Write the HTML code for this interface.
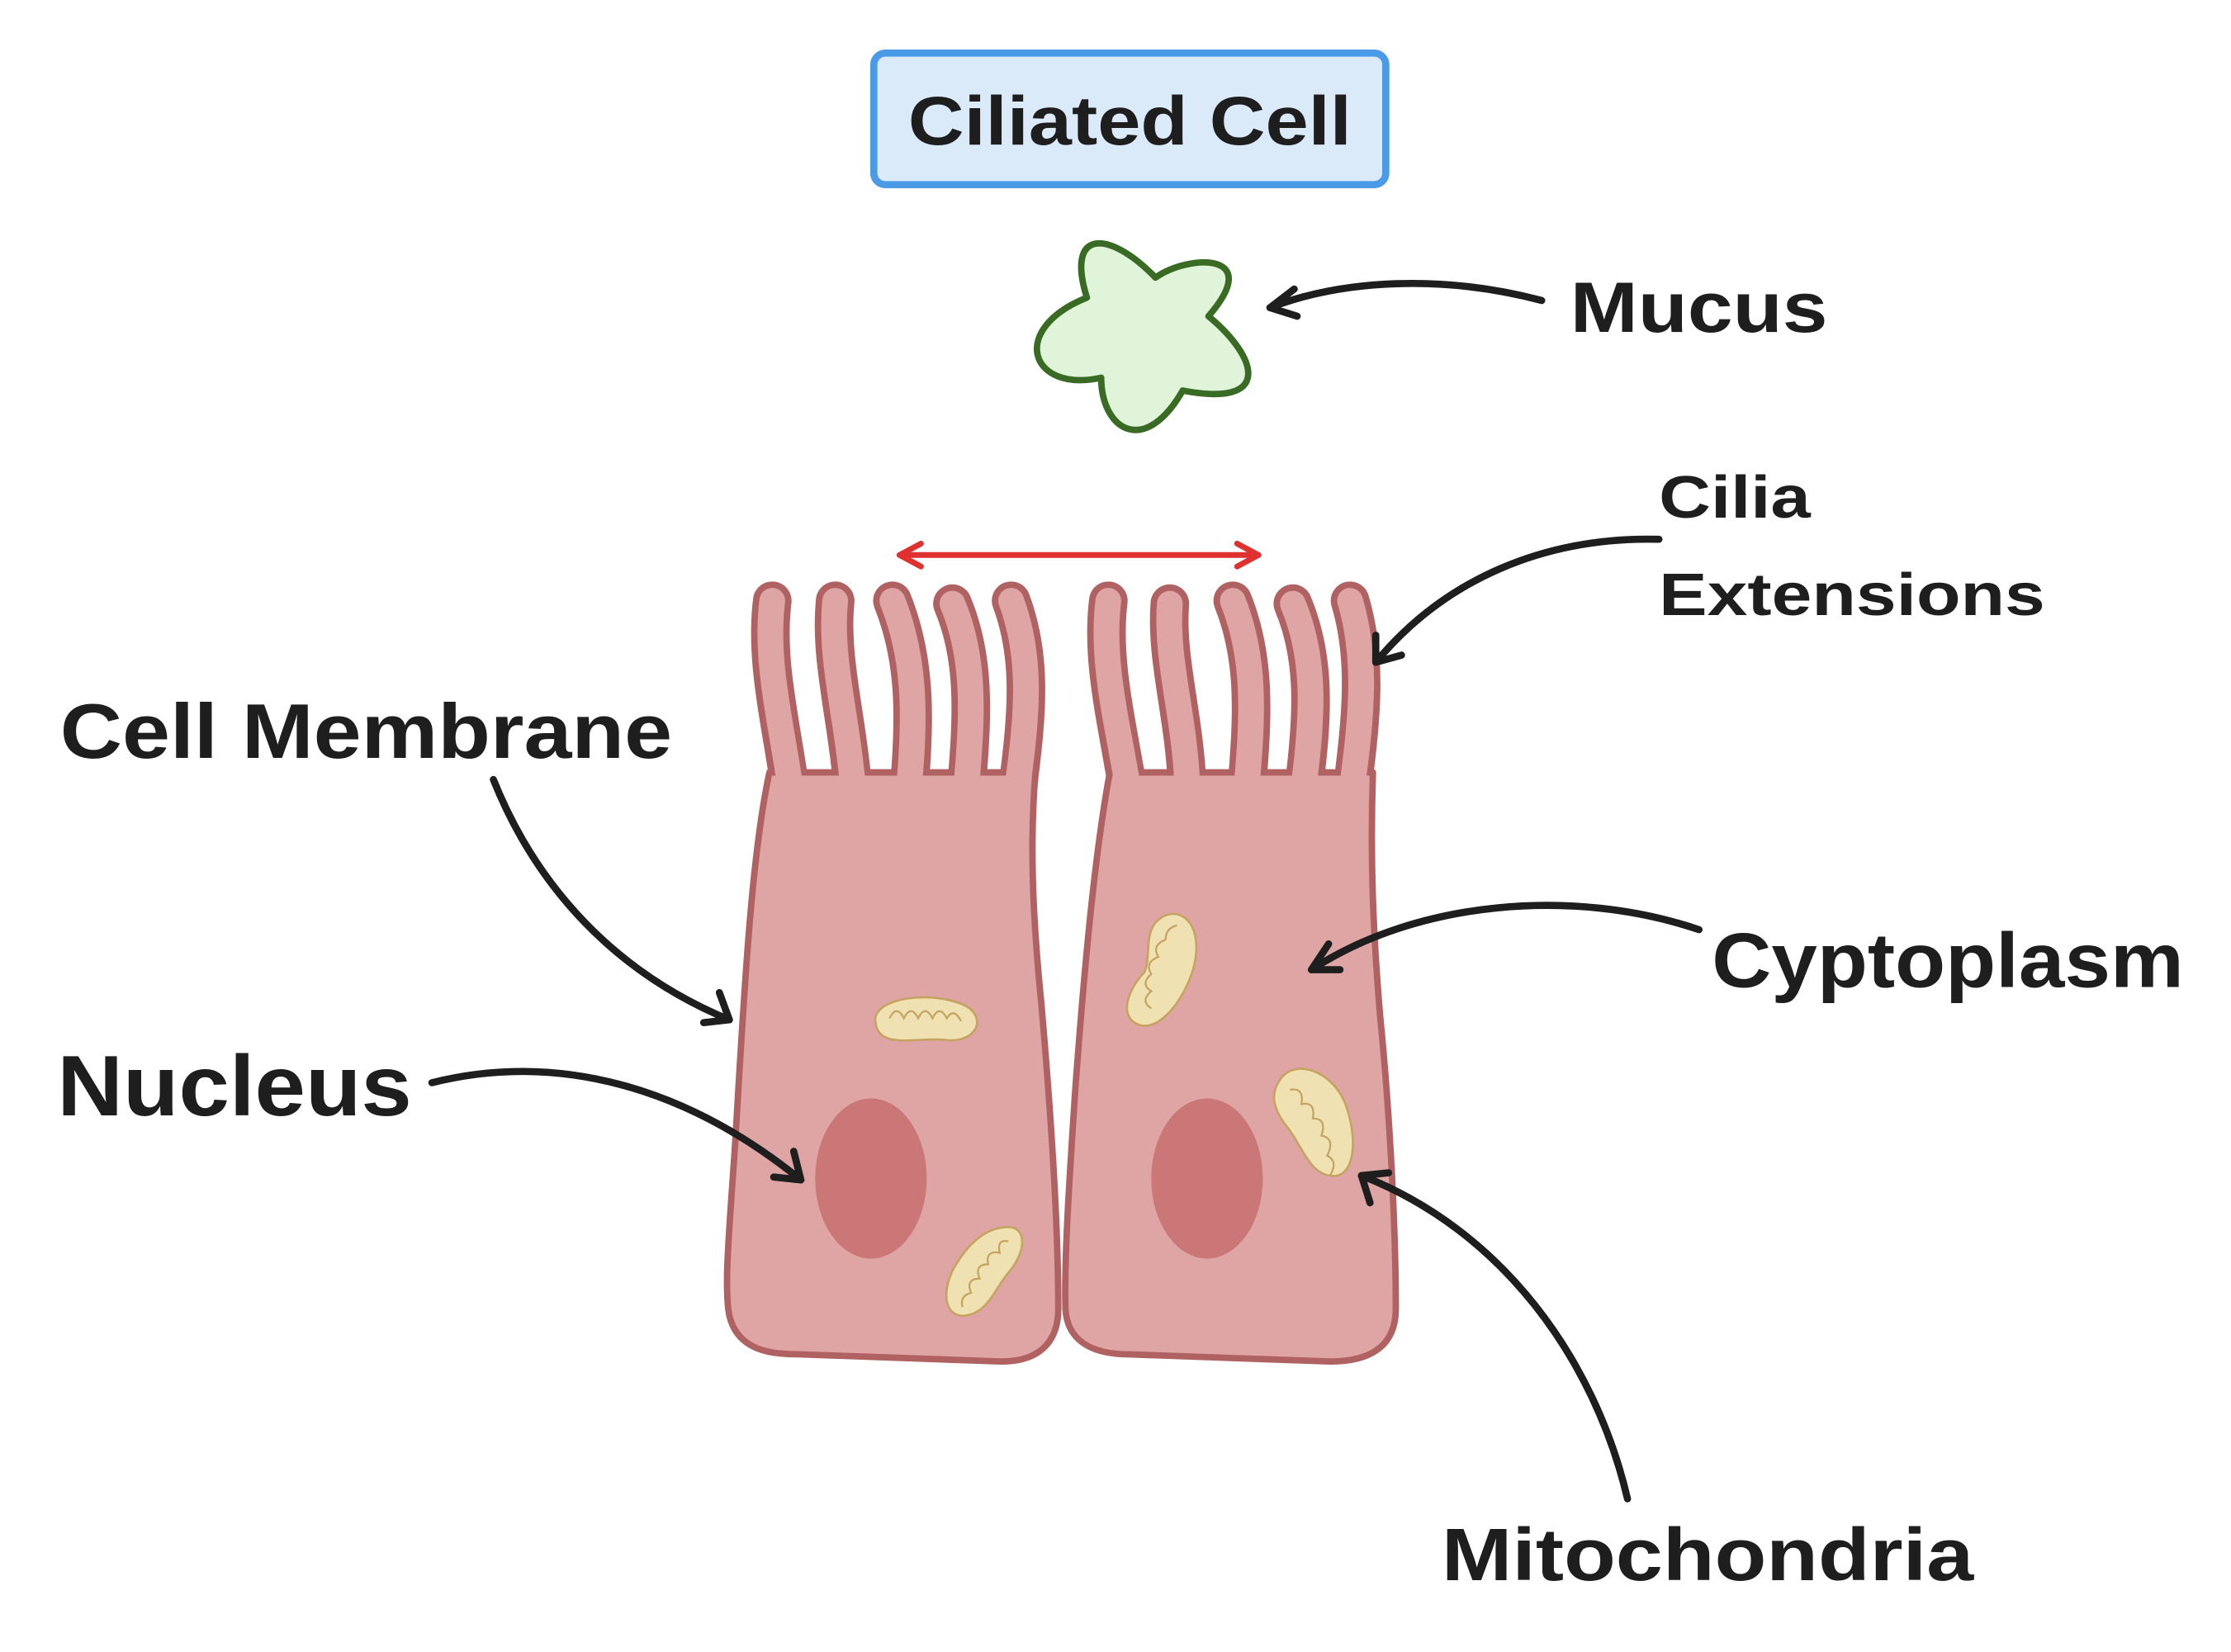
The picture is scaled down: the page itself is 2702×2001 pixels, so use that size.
<!DOCTYPE html>
<html><head><meta charset="utf-8"><style>
html,body{margin:0;padding:0;background:#fff;}
svg{display:block;}
text{font-family:"Liberation Sans",sans-serif;font-weight:bold;fill:#1e1e1e;}
</style></head><body>
<svg width="2702" height="2001" viewBox="0 0 1560 1155" xmlns="http://www.w3.org/2000/svg">
<!-- title -->
<rect x="611" y="37" width="358" height="92" rx="8" fill="#dbeaf9" stroke="#4a9ae8" stroke-width="5"/>
<text x="635" y="101" font-size="48" textLength="310" lengthAdjust="spacingAndGlyphs">Ciliated Cell</text>

<!-- mucus star -->
<path d="M760,208 C745,160 775,160 808,194 C830,178 885,175 845,221 C880,250 890,285 827,273 C800,320 770,300 770,264 C720,275 705,230 760,208 Z" fill="#e0f4da" stroke="#3a6b25" stroke-width="4.5" stroke-linejoin="round"/>

<!-- red arrow -->
<g fill="none" stroke="#e03131" stroke-width="4" stroke-linecap="round" stroke-linejoin="round">
<path d="M629,388 L880,388"/>
<path d="M644,380 L629,388 L644,396"/>
<path d="M865,380 L880,388 L865,396"/>
</g>

<!-- cells -->
<g fill="none" stroke="#b06262" stroke-width="27" stroke-linecap="round">
<path d="M540,420 C535,460 545,500 552,548"/>
<path d="M584,420 C580,460 592,500 596,548"/>
<path d="M624,420 C640,460 640,500 636,548"/>
<path d="M666,422 C682,460 680,500 676,548"/>
<path d="M707,420 C722,460 718,500 712,548"/>
<path d="M775,420 C770,460 780,500 788,548"/>
<path d="M818,422 C815,460 828,500 830,548"/>
<path d="M862,420 C878,460 876,500 872,548"/>
<path d="M904,422 C920,460 918,500 912,548"/>
<path d="M944,420 C956,460 952,500 946,548"/>
</g>
<path d="M538,540 C525,600 520,700 514,800 C510,860 506,900 510,920 C516,945 540,947 560,947 L700,952 C730,952 740,935 740,915 C740,860 735,780 728,700 C722,640 720,590 724,540 Z" fill="#dfa4a4" stroke="#b06262" stroke-width="4.5" stroke-linejoin="round"/>
<path d="M776,540 C765,600 758,680 752,760 C748,820 744,880 745,915 C746,935 760,947 790,947 L930,952 C960,952 976,940 976,915 C976,860 972,780 965,710 C960,650 958,600 960,540 Z" fill="#dfa4a4" stroke="#b06262" stroke-width="4.5" stroke-linejoin="round"/>
<g fill="none" stroke="#dfa4a4" stroke-width="18" stroke-linecap="round">
<path d="M540,420 C535,460 545,500 552,546"/>
<path d="M584,420 C580,460 592,500 596,546"/>
<path d="M624,420 C640,460 640,500 636,546"/>
<path d="M666,422 C682,460 680,500 676,546"/>
<path d="M707,420 C722,460 718,500 712,546"/>
<path d="M775,420 C770,460 780,500 788,546"/>
<path d="M818,422 C815,460 828,500 830,546"/>
<path d="M862,420 C878,460 876,500 872,546"/>
<path d="M904,422 C920,460 918,500 912,546"/>
<path d="M944,420 C956,460 952,500 946,546"/>
</g>
<!-- nuclei -->
<ellipse cx="609" cy="824" rx="39" ry="56" fill="#cb7777"/>
<ellipse cx="844" cy="824" rx="39" ry="56" fill="#cb7777"/>
<!-- mitochondria -->
<g fill="#f0e1b2" stroke="#c4a45e" stroke-width="1.5">
<path d="M612,712 C615,695 660,693 678,705 C690,715 680,730 660,727 C640,725 612,735 612,712 Z"/>
<path d="M808,645 C820,632 840,640 836,670 C833,690 815,720 798,717 C780,712 790,690 800,680 C805,670 800,655 808,645 Z"/>
<path d="M895,755 C905,740 930,748 940,770 C950,795 948,825 930,822 C915,820 910,800 900,788 C890,775 888,765 895,755 Z"/>
<path d="M705,858 C718,858 718,875 705,890 C695,902 690,920 672,920 C658,918 660,898 668,885 C680,865 693,858 705,858 Z"/>
</g>
<g fill="none" stroke="#c4a45e" stroke-width="1.3">
<path d="M622,712 q5,-10 10,0 q5,-10 10,0 q5,-10 10,0 q5,-10 10,0 q5,-8 10,2"/>
<path d="M805,705 q-8,-5 0,-12 q-8,-5 0,-12 q-5,-8 5,-12 q-5,-8 5,-12 q0,-8 8,-10"/>
<path d="M902,762 q10,-2 8,10 q10,-2 8,10 q10,0 6,12 q10,2 4,14 q8,4 2,14"/>
<path d="M705,868 q-8,-2 -6,8 q-10,-2 -8,8 q-10,0 -6,10 q-10,0 -6,10 q-8,2 -6,10"/>
</g>

<!-- arrows -->
<g fill="none" stroke="#1e1e1e" stroke-width="5" stroke-linecap="round" stroke-linejoin="round">
<path d="M1078,210 C1010,192 940,195 888,215"/>
<path d="M905,202 L888,215 L907,221"/>
<path d="M1160,377 C1080,375 1010,405 962,463"/>
<path d="M962,444 L962,463 L980,458"/>
<path d="M345,545 C375,620 430,680 510,713"/>
<path d="M503,694 L510,713 L492,715"/>
<path d="M302,757 C390,735 480,760 560,825"/>
<path d="M555,805 L560,825 L541,823"/>
<path d="M1188,650 C1100,620 990,630 917,678"/>
<path d="M929,660 L917,678 L937,678"/>
<path d="M1138,1048 C1115,950 1050,860 952,822"/>
<path d="M958,841 L952,822 L971,820"/>
</g>

<!-- labels -->
<text x="1098" y="232" font-size="50" textLength="180" lengthAdjust="spacingAndGlyphs">Mucus</text>
<text x="1160" y="362" font-size="42" textLength="106" lengthAdjust="spacingAndGlyphs">Cilia</text>
<text x="1160" y="430" font-size="42" textLength="270" lengthAdjust="spacingAndGlyphs">Extensions</text>
<text x="42" y="530" font-size="54" textLength="428" lengthAdjust="spacingAndGlyphs">Cell Membrane</text>
<text x="40" y="780" font-size="60" textLength="248" lengthAdjust="spacingAndGlyphs">Nucleus</text>
<text x="1197" y="690" font-size="54" textLength="330" lengthAdjust="spacingAndGlyphs">Cyptoplasm</text>
<text x="1008" y="1105" font-size="52" textLength="372" lengthAdjust="spacingAndGlyphs">Mitochondria</text>
</svg>
</body></html>
